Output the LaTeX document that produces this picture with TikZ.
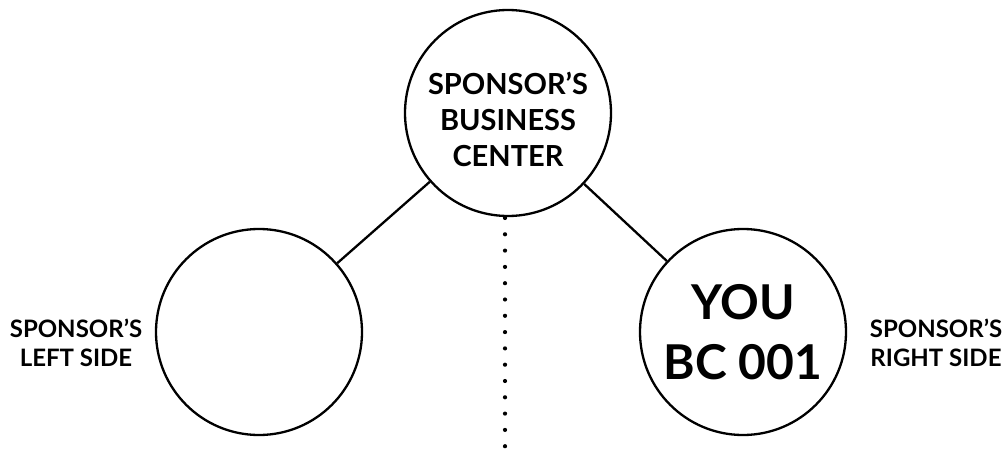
\documentclass[tikz,border=0pt]{standalone}
\usepackage{fontspec}
\setmainfont{Lato}
\usepackage{tikz}
\usetikzlibrary{positioning}
\usetikzlibrary{arrows,shapes,calc}

\tikzset{
  bc/.style={circle,draw,line width=2.3pt,minimum size=206pt,inner sep=0pt,align=center,font=\bfseries},
  side/.style={align=center,font=\fontsize{24}{29}\selectfont\bfseries},
  link/.style={line width=2.3pt},
  dots/.style={line width=4.2pt,line cap=round,dash pattern=on 0pt off 16.3pt}
}

\begin{document}
\begin{tikzpicture}[x=1pt,y=1pt]

\useasboundingbox (0,0) rectangle (1005,467);

\node[bc,label={[align=center,yshift=-6pt,font=\fontsize{29}{36}\selectfont\bfseries]center:SPONSOR’S\\BUSINESS\\CENTER}] (center) at (508,354) {};
\node[bc] (left) at (259,135) {};
\node[bc,font=\fontsize{48}{60}\selectfont\bfseries] (you) at (743,135) {YOU\\BC 001};

\node[side] (leftlbl) at (76,124) {SPONSOR’S\\LEFT SIDE};
\node[side] (rightlbl) at (936,124) {SPONSOR’S\\RIGHT SIDE};

\draw[link] (center) -- (left);
\draw[link] (center) -- (you);

\coordinate (dottop) at (505,249);
\coordinate (dotbot) at (505,5);
\draw[dots] (dottop) -- (dotbot);

\end{tikzpicture}
\end{document}
